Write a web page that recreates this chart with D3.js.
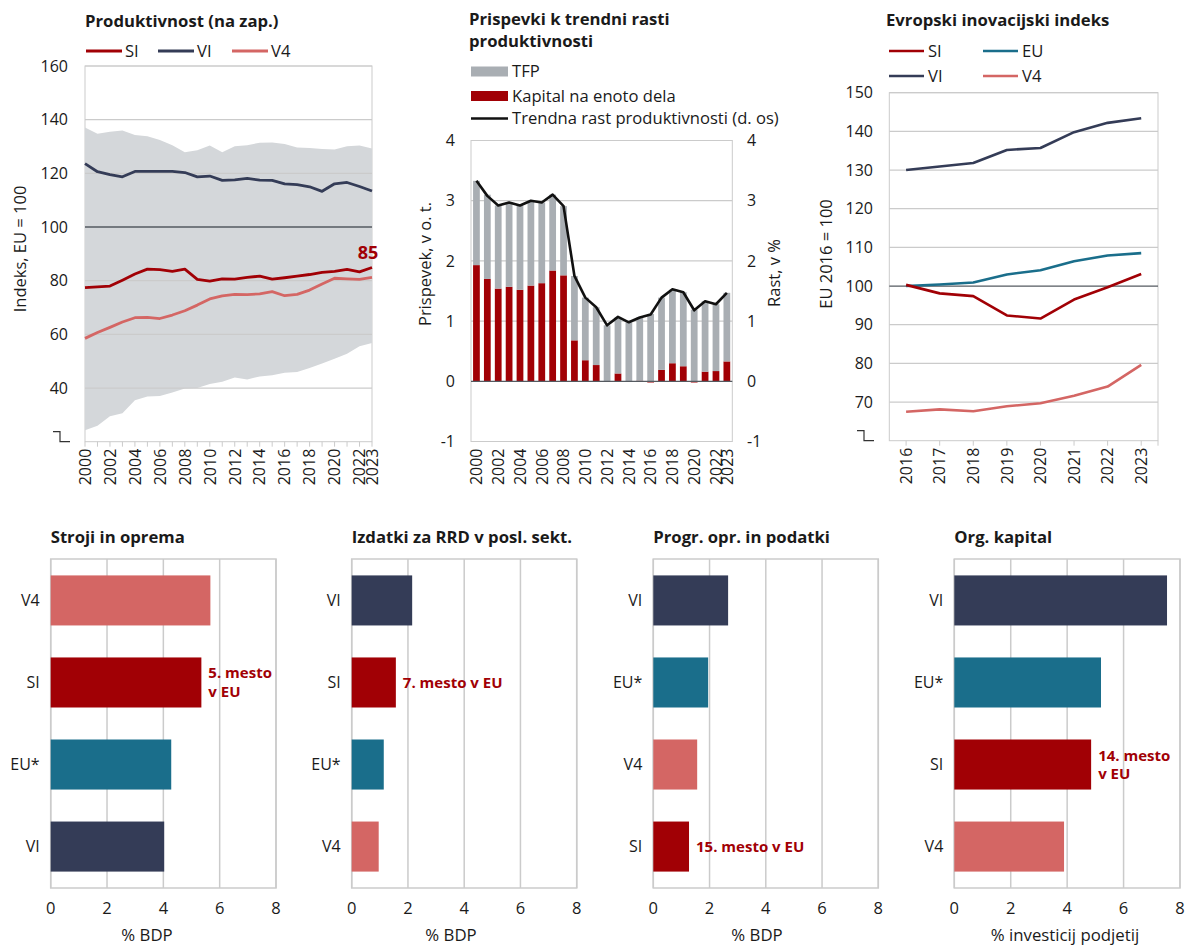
<!DOCTYPE html>
<html><head><meta charset="utf-8">
<script src="https://cdn.jsdelivr.net/npm/d3@7"></script>
<style>
body{margin:0;background:#fff}
text{font-family:"Open Sans","Noto Sans",sans-serif;fill:#1a1a1a}
</style>
</head><body>
<svg id="c" width="1191" height="947"></svg>
<script>
// ---------- DATA ----------
const prodYears = [2000,2001,2002,2003,2004,2005,2006,2007,2008,2009,2010,2011,2012,2013,2014,2015,2016,2017,2018,2019,2020,2021,2022,2023];
const prodSI  = [77.4,77.7,78.0,80.2,82.5,84.3,84.1,83.5,84.3,80.5,79.8,80.7,80.6,81.2,81.7,80.6,81.1,81.7,82.3,83.1,83.5,84.2,83.3,84.9];
const prodVI  = [123.6,120.6,119.5,118.7,120.7,120.7,120.7,120.7,120.3,118.7,119.0,117.4,117.6,118.1,117.5,117.4,116.1,115.8,115.0,113.3,116.1,116.6,115.1,113.4];
const prodV4  = [58.5,60.7,62.6,64.6,66.2,66.3,65.9,67.2,68.8,70.9,73.2,74.3,74.9,74.8,75.1,75.9,74.4,74.9,76.5,78.8,80.9,80.7,80.5,81.2];
const prodMax = [137.1,134.8,135.5,136.0,134.3,133.8,132.4,130.5,127.9,128.6,130.4,127.9,130.1,130.5,131.4,131.5,130.9,129.6,129.4,129.1,128.9,130.1,130.4,129.3];
const prodMin = [24.3,25.9,29.5,30.6,35.4,36.8,37.0,38.3,39.8,40.0,41.5,42.3,43.9,43.2,44.3,44.8,45.7,46.0,47.5,49.1,50.9,52.8,55.6,56.8];
const prodTicks = [40,60,80,100,120,140,160];
const prodLabelYears = [2000,2002,2004,2006,2008,2010,2012,2014,2016,2018,2020,2022,2023];

const tfpVals   = [1.40,1.40,1.38,1.40,1.40,1.41,1.34,1.26,1.15,1.07,1.04,0.96,0.93,0.93,0.98,1.05,1.12,1.20,1.22,1.23,1.19,1.17,1.11,1.14];
const kapVals   = [1.93,1.70,1.54,1.57,1.52,1.59,1.63,1.84,1.76,0.68,0.35,0.27,0.00,0.13,0.00,0.01,-0.02,0.19,0.30,0.25,-0.02,0.16,0.17,0.33];
const trendVals = [3.33,3.08,2.92,2.97,2.92,3.00,2.97,3.10,2.91,1.75,1.39,1.23,0.93,1.07,0.98,1.06,1.11,1.39,1.53,1.48,1.18,1.33,1.28,1.47];
const contribTicks = [-1,0,1,2,3,4];

const eiiYears = [2016,2017,2018,2019,2020,2021,2022,2023];
const eiiSI = [100.3,98.1,97.4,92.4,91.6,96.5,99.7,103.1];
const eiiEU = [100.0,100.4,100.9,103.0,104.1,106.4,107.9,108.5];
const eiiVI = [130.0,130.9,131.8,135.2,135.7,139.8,142.2,143.4];
const eiiV4 = [67.5,68.1,67.6,68.9,69.7,71.6,74.0,79.6];
const eiiTicks = [70,80,90,100,110,120,130,140,150];

const strojiCats = ["V4","SI","EU*","VI"];   const strojiVals = [5.67,5.35,4.28,4.03];
const rrdCats    = ["VI","SI","EU*","V4"];   const rrdVals    = [2.15,1.57,1.14,0.96];
const progCats   = ["VI","EU*","V4","SI"];   const progVals   = [2.66,1.95,1.56,1.27];
const orgCats    = ["VI","EU*","SI","V4"];   const orgVals    = [7.54,5.20,4.85,3.89];
const barTicks = [0,2,4,6,8];

// ---------- STYLE ----------
const C = {SI:"#a10005", VI:"#343c57", V4:"#d46664", "EU*":"#1a6e8b", EU:"#1a6e8b",
           tfp:"#a9aeb3", band:"#d4d7da", grid:"#cbcbcb", dark:"#555a60"};
const svg = d3.select("#c");
const TICK_FS = 16, LEG_FS = "16.6px", TTL_FS = "16.7px";

function ylabel(x, y, txt){
  svg.append("text").attr("transform",`translate(${x},${y}) rotate(-90)`)
    .attr("text-anchor","middle").attr("dy","0.35em").style("font-size","16.5px").text(txt);
}
function title(x, y, txt){
  svg.append("text").attr("x",x).attr("y",y).style("font-size",TTL_FS).style("font-weight","700").text(txt);
}
function breakMark(x, y){
  svg.append("path").attr("d",`M${x},${y-10}H${x+7}V${y}H${x+17}`).attr("fill","none").attr("stroke","#333").attr("stroke-width",1.2);
}

// ---------- PANEL 1 ----------
(function(){
  const L=85,R=372,T=66,B=441.7;
  const x = d3.scaleLinear().domain([2000,2023]).range([L,R]);
  const y = d3.scaleLinear().domain([20,160]).range([B,T]);
  const g = svg.append("g");
  g.append("rect").attr("x",L).attr("y",T).attr("width",R-L).attr("height",B-T).attr("fill","none").attr("stroke",C.grid);
  const area = d3.area().x((d,i)=>x(prodYears[i])).y0((d,i)=>y(prodMin[i])).y1(d=>y(d));
  g.append("path").datum(prodMax).attr("d",area).attr("fill",C.band);
  prodTicks.forEach(t=>{
    g.append("line").attr("x1",L).attr("x2",R).attr("y1",y(t)).attr("y2",y(t))
      .attr("stroke", t===100? C.dark : C.grid).attr("stroke-width", t===100?1.3:1.2);
    g.append("text").attr("x",68).attr("y",y(t)).attr("dy","0.35em").attr("text-anchor","end").style("font-size",TICK_FS+"px").text(t);
  });
  prodYears.forEach(yr=>{
    g.append("line").attr("x1",x(yr)).attr("x2",x(yr)).attr("y1",B).attr("y2",B+5).attr("stroke",C.grid);
  });
  prodLabelYears.forEach(yr=>{
    g.append("text").attr("transform",`translate(${x(yr)},${B+7}) rotate(-90)`).attr("text-anchor","end").attr("dy","0.36em").style("font-size","16px").text(yr);
  });
  const line = d3.line().x((d,i)=>x(prodYears[i])).y(d=>y(d));
  [[prodV4,C.V4],[prodVI,C.VI],[prodSI,C.SI]].forEach(([s,c])=>{
    g.append("path").datum(s).attr("d",line).attr("fill","none").attr("stroke",c).attr("stroke-width",2.8).attr("stroke-linejoin","round");
  });
  g.append("text").attr("x",x(2023)-4).attr("y",y(prodSI[23])-9).attr("text-anchor","middle")
    .style("font-size","18px").style("font-weight","700").style("fill",C.SI).text(Math.round(prodSI[23]));
  breakMark(53,B);
  ylabel(20,249,"Indeks, EU = 100");
  title(85,27,"Produktivnost (na zap.)");
  [["SI",86],["VI",158],["V4",232]].forEach(([k,lx])=>{
    g.append("line").attr("x1",lx).attr("x2",lx+36).attr("y1",51).attr("y2",51).attr("stroke",C[k]).attr("stroke-width",2.8);
    g.append("text").attr("x",lx+39).attr("y",51).attr("dy","0.35em").style("font-size",LEG_FS).text(k);
  });
})();

// ---------- PANEL 2 ----------
(function(){
  const L=471,R=732.3,T=140.5,B=441.5;
  const x = d3.scaleBand().domain(prodYears).range([L,R]).paddingInner(0.38).paddingOuter(0.19);
  const y = d3.scaleLinear().domain([-1,4]).range([B,T]);
  const g = svg.append("g");
  g.append("rect").attr("x",L).attr("y",T).attr("width",R-L).attr("height",B-T).attr("fill","none").attr("stroke",C.grid);
  contribTicks.forEach(t=>{
    if(t!==0) g.append("line").attr("x1",L).attr("x2",R).attr("y1",y(t)).attr("y2",y(t)).attr("stroke",C.grid).attr("stroke-width",1.2);
    g.append("text").attr("x",455).attr("y",y(t)).attr("dy","0.35em").attr("text-anchor","end").style("font-size",TICK_FS+"px").text(t);
    g.append("text").attr("x",747).attr("y",y(t)).attr("dy","0.35em").attr("text-anchor","start").style("font-size",TICK_FS+"px").text(t);
  });
  const rows = prodYears.map((yr,i)=>({year:yr, kap:kapVals[i], tfp:tfpVals[i]}));
  const stack = d3.stack().keys(["kap","tfp"]).offset(d3.stackOffsetDiverging)(rows);
  const cols = {kap:C.SI, tfp:C.tfp};
  stack.forEach(layer=>{
    g.selectAll(null).data(layer).join("rect")
      .attr("x",d=>x(d.data.year)).attr("width",x.bandwidth())
      .attr("y",d=>y(Math.max(d[0],d[1]))).attr("height",d=>Math.abs(y(d[0])-y(d[1])))
      .attr("fill",cols[layer.key]);
  });
  g.append("line").attr("x1",L).attr("x2",R).attr("y1",y(0)).attr("y2",y(0)).attr("stroke",C.dark).attr("stroke-width",1.3);
  const line = d3.line().x((d,i)=>x(prodYears[i])+x.bandwidth()/2).y(d=>y(d));
  g.append("path").datum(trendVals).attr("d",line).attr("fill","none").attr("stroke","#111").attr("stroke-width",2.6).attr("stroke-linejoin","round");
  prodLabelYears.forEach(yr=>{
    g.append("text").attr("transform",`translate(${x(yr)+x.bandwidth()/2},${B+7}) rotate(-90)`).attr("text-anchor","end").attr("dy","0.36em").style("font-size","16px").text(yr);
  });
  ylabel(425,264,"Prispevek,  v o. t.");
  ylabel(774,273,"Rast, v %");
  title(469,25,"Prispevki k trendni rasti");
  title(469,47,"produktivnosti");
  g.append("rect").attr("x",471).attr("y",66.5).attr("width",37).attr("height",10).attr("fill",C.tfp);
  g.append("text").attr("x",512).attr("y",71.5).attr("dy","0.35em").style("font-size",LEG_FS).text("TFP");
  g.append("rect").attr("x",471).attr("y",91).attr("width",37).attr("height",10).attr("fill",C.SI);
  g.append("text").attr("x",512).attr("y",96).attr("dy","0.35em").style("font-size",LEG_FS).text("Kapital na enoto dela");
  g.append("line").attr("x1",471).attr("x2",508).attr("y1",118.5).attr("y2",118.5).attr("stroke","#111").attr("stroke-width",2.6);
  g.append("text").attr("x",512).attr("y",118.5).attr("dy","0.35em").style("font-size",LEG_FS).text("Trendna rast produktivnosti (d. os)");
})();

// ---------- PANEL 3 ----------
(function(){
  const L=889.3,R=1158,T=92.7,B=440.7;
  const x = d3.scalePoint().domain(eiiYears).range([L,R]).padding(0.5);
  const y = d3.scaleLinear().domain([60,150]).range([B,T]);
  const g = svg.append("g");
  g.append("rect").attr("x",L).attr("y",T).attr("width",R-L).attr("height",B-T).attr("fill","none").attr("stroke",C.grid);
  eiiTicks.forEach(t=>{
    g.append("line").attr("x1",L).attr("x2",R).attr("y1",y(t)).attr("y2",y(t))
      .attr("stroke", t===100? C.dark : C.grid).attr("stroke-width", t===100?1.3:1.2);
    g.append("text").attr("x",873).attr("y",y(t)).attr("dy","0.35em").attr("text-anchor","end").style("font-size",TICK_FS+"px").text(t);
  });
  g.append("line").attr("x1",R).attr("x2",R).attr("y1",B).attr("y2",B+5).attr("stroke",C.grid);
  eiiYears.forEach(yr=>{
    g.append("line").attr("x1",x(yr)).attr("x2",x(yr)).attr("y1",B).attr("y2",B+5).attr("stroke",C.grid);
    g.append("text").attr("transform",`translate(${x(yr)},${B+7}) rotate(-90)`).attr("text-anchor","end").attr("dy","0.36em").style("font-size","16px").text(yr);
  });
  const line = d3.line().x((d,i)=>x(eiiYears[i])).y(d=>y(d));
  [[eiiV4,C.V4],[eiiVI,C.VI],[eiiEU,C.EU],[eiiSI,C.SI]].forEach(([s,c])=>{
    g.append("path").datum(s).attr("d",line).attr("fill","none").attr("stroke",c).attr("stroke-width",2.6).attr("stroke-linejoin","round");
  });
  breakMark(857,B);
  ylabel(826,254,"EU 2016 = 100");
  title(886,26,"Evropski inovacijski indeks");
  [["SI",889,51],["EU",983,51],["VI",889,76],["V4",983,76]].forEach(([k,lx,ly])=>{
    g.append("line").attr("x1",lx).attr("x2",lx+35).attr("y1",ly).attr("y2",ly).attr("stroke",C[k]).attr("stroke-width",2.6);
    g.append("text").attr("x",lx+39).attr("y",ly).attr("dy","0.35em").style("font-size",LEG_FS).text(k);
  });
})();

// ---------- BOTTOM PANELS ----------
function barPanel(cats, vals, L, R, ttl, axisTitle, axisTitleX, note){
  const T=559,B=888;
  const x = d3.scaleLinear().domain([0,8]).range([L,R]);
  const y = d3.scaleBand().domain(cats).range([T,B]).paddingInner(0.39).paddingOuter(0.2);
  const g = svg.append("g");
  barTicks.forEach(t=>{
    g.append("line").attr("x1",x(t)).attr("x2",x(t)).attr("y1",T).attr("y2",B).attr("stroke",C.grid).attr("stroke-width",1.5);
    g.append("text").attr("x",x(t)).attr("y",B+20).attr("dy","0.35em").attr("text-anchor","middle").style("font-size","16.5px").text(t);
  });
  g.append("rect").attr("x",L).attr("y",T).attr("width",R-L).attr("height",B-T).attr("fill","none").attr("stroke",C.grid).attr("stroke-width",1.5);
  g.selectAll(null).data(cats).join("rect")
    .attr("x",x(0)).attr("y",d=>y(d)).attr("height",y.bandwidth())
    .attr("width",(d,i)=>x(vals[i])-x(0)).attr("fill",d=>C[d]);
  cats.forEach(c=>{
    g.append("text").attr("x",L-11).attr("y",y(c)+y.bandwidth()/2).attr("dy","0.35em").attr("text-anchor","end").style("font-size","16px").text(c);
  });
  g.append("text").attr("x",axisTitleX).attr("y",941).attr("text-anchor","middle").style("font-size","16.8px").text(axisTitle);
  title(L,543,ttl);
  const i = cats.indexOf("SI");
  const cy = y("SI")+y.bandwidth()/2;
  const t = g.append("text").style("font-size","15px").style("font-weight","700").style("fill",C.SI);
  note.forEach((ln,k)=>{
    t.append("tspan").attr("x",x(vals[i])+7).attr("y",cy + (k-(note.length-1)/2)*18.5).attr("dy","0.35em").text(ln);
  });
}
barPanel(strojiCats, strojiVals, 50.7, 276, "Stroji in oprema", "% BDP", 147, ["5. mesto","v EU"]);
barPanel(rrdCats, rrdVals, 351.7, 576.7, "Izdatki za RRD v posl. sekt.", "% BDP", 451, ["7. mesto v EU"]);
barPanel(progCats, progVals, 653.3, 878.3, "Progr. opr. in podatki", "% BDP", 757, ["15. mesto v EU"]);
barPanel(orgCats, orgVals, 954.3, 1180, "Org. kapital", "% investicij podjetij", 1065, ["14. mesto","v EU"]);
</script>
</body></html>
